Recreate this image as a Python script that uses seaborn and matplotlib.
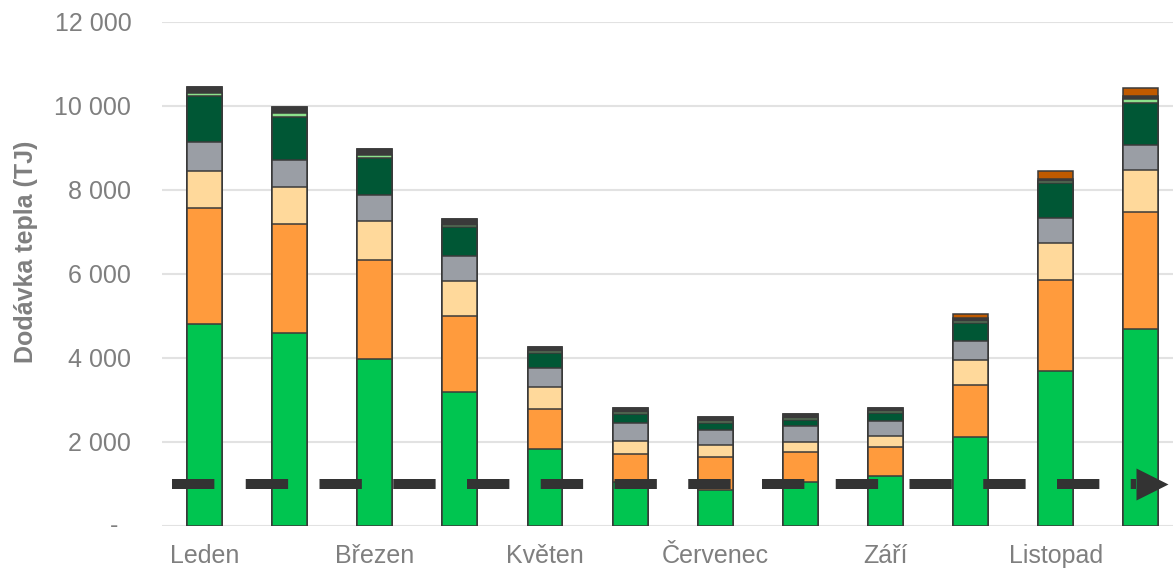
import numpy as np
import pandas as pd
import matplotlib
matplotlib.use("Agg")
import matplotlib.pyplot as plt
from matplotlib.transforms import blended_transform_factory
import seaborn as sns

# Monthly heat supply (TJ), split by source
months = ["Leden", "Únor", "Březen", "Duben", "Květen", "Červen",
          "Červenec", "Srpen", "Září", "Říjen", "Listopad", "Prosinec"]
src_green = [4800, 4580, 3960, 3180, 1835, 1030, 850, 1035, 1185, 2105, 3685, 4685]
src_orange = [2765, 2600, 2365, 1820, 950, 670, 778, 727, 695, 1245, 2165, 2775]
src_peach = [888, 875, 920, 825, 525, 325, 295, 225, 255, 595, 875, 1010]
src_gray = [683, 650, 625, 595, 445, 430, 365, 395, 365, 455, 605, 595]
src_darkgreen = [1085, 1035, 885, 680, 355, 205, 155, 140, 175, 425, 825, 1005]
src_lightgreen = [90, 80, 80, 70, 55, 50, 50, 50, 50, 55, 60, 80]
src_darkgray = [143, 140, 145, 125, 95, 85, 85, 95, 70, 60, 40, 70]
src_brown = [0, 0, 0, 0, 0, 0, 0, 0, 0, 95, 180, 195]
reference_level = 1000

shown_months = ["Leden", "Březen", "Květen", "Červenec", "Září", "Listopad"]
y_ticks = [0, 2000, 4000, 6000, 8000, 10000, 12000]

layers = [
    (src_green, "#00C550"),
    (src_orange, "#FF9B3D"),
    (src_peach, "#FFD99B"),
    (src_gray, "#9A9EA5"),
    (src_darkgreen, "#005735"),
    (src_lightgreen, "#8CE28C"),
    (src_darkgray, "#3A3A3A"),
    (src_brown, "#C05A00"),
]

df = pd.DataFrame({"mesic": months})
cum = np.zeros(len(months))
cols = []
for i, (vals, col) in enumerate(layers):
    cum = cum + np.asarray(vals, dtype=float)
    df[f"c{i}"] = cum
    cols.append((f"c{i}", col))

sns.set_style("white")
plt.rcParams["font.family"] = ["Liberation Sans", "DejaVu Sans"]
plt.rcParams["lines.scale_dashes"] = False

fig, ax = plt.subplots(figsize=(11.73, 5.70), dpi=100)
fig.subplots_adjust(left=0.138, right=1.0, top=0.962, bottom=0.0777)

edge = "#3A3A3A"
# cumulative totals drawn from the top layer down, so each lower layer covers the next
for name, col in reversed(cols):
    sns.barplot(data=df, x="mesic", y=name, order=months, color=col,
                width=0.41, edgecolor=edge, linewidth=1.1, ax=ax,
                saturation=1, errorbar=None, zorder=2)

# dashed reference line ending in an arrowhead
n = len(months)
line_start, line_end = -0.377, n - 1.057
ax.plot([line_start, line_end], [reference_level, reference_level],
        color="#333333", lw=7.2, dashes=(30.5, 22.6),
        dash_capstyle="butt", solid_capstyle="butt", zorder=5)
ax.plot([line_end + 0.182], [reference_level], marker=">", ms=22.5,
        color="#333333", mec="none", zorder=5)

ax.set_xlim(-0.5, n - 0.623)
ax.set_ylim(0, 12000)

ax.set_yticks(y_ticks)
ax.set_yticklabels(["" if v == 0 else f"{v:,}".replace(",", " ") for v in y_ticks])
tr = blended_transform_factory(fig.transFigure, ax.transData)
ax.text(114.5 / 1173, 0, "-", transform=tr, ha="center", va="center",
        fontsize=18, color="#7F7F7F")

ax.set_xticks([months.index(m) for m in shown_months])
ax.set_xticklabels(shown_months)

ax.tick_params(axis="y", length=0, labelsize=18, labelcolor="#7F7F7F", pad=22)
ax.tick_params(axis="x", length=0, labelsize=18, labelcolor="#7F7F7F", pad=13)

ax.set_xlabel("")
ax.set_ylabel("Dodávka tepla (TJ)", fontsize=18, fontweight="bold", color="#7F7F7F")
ax.yaxis.set_label_coords(-0.123, 0.543)

ax.yaxis.grid(True, color="#E2E2E2", lw=1.5)
ax.xaxis.grid(False)
ax.set_axisbelow(True)
for s in ax.spines.values():
    s.set_visible(False)

fig.savefig("out.png", dpi=100)
